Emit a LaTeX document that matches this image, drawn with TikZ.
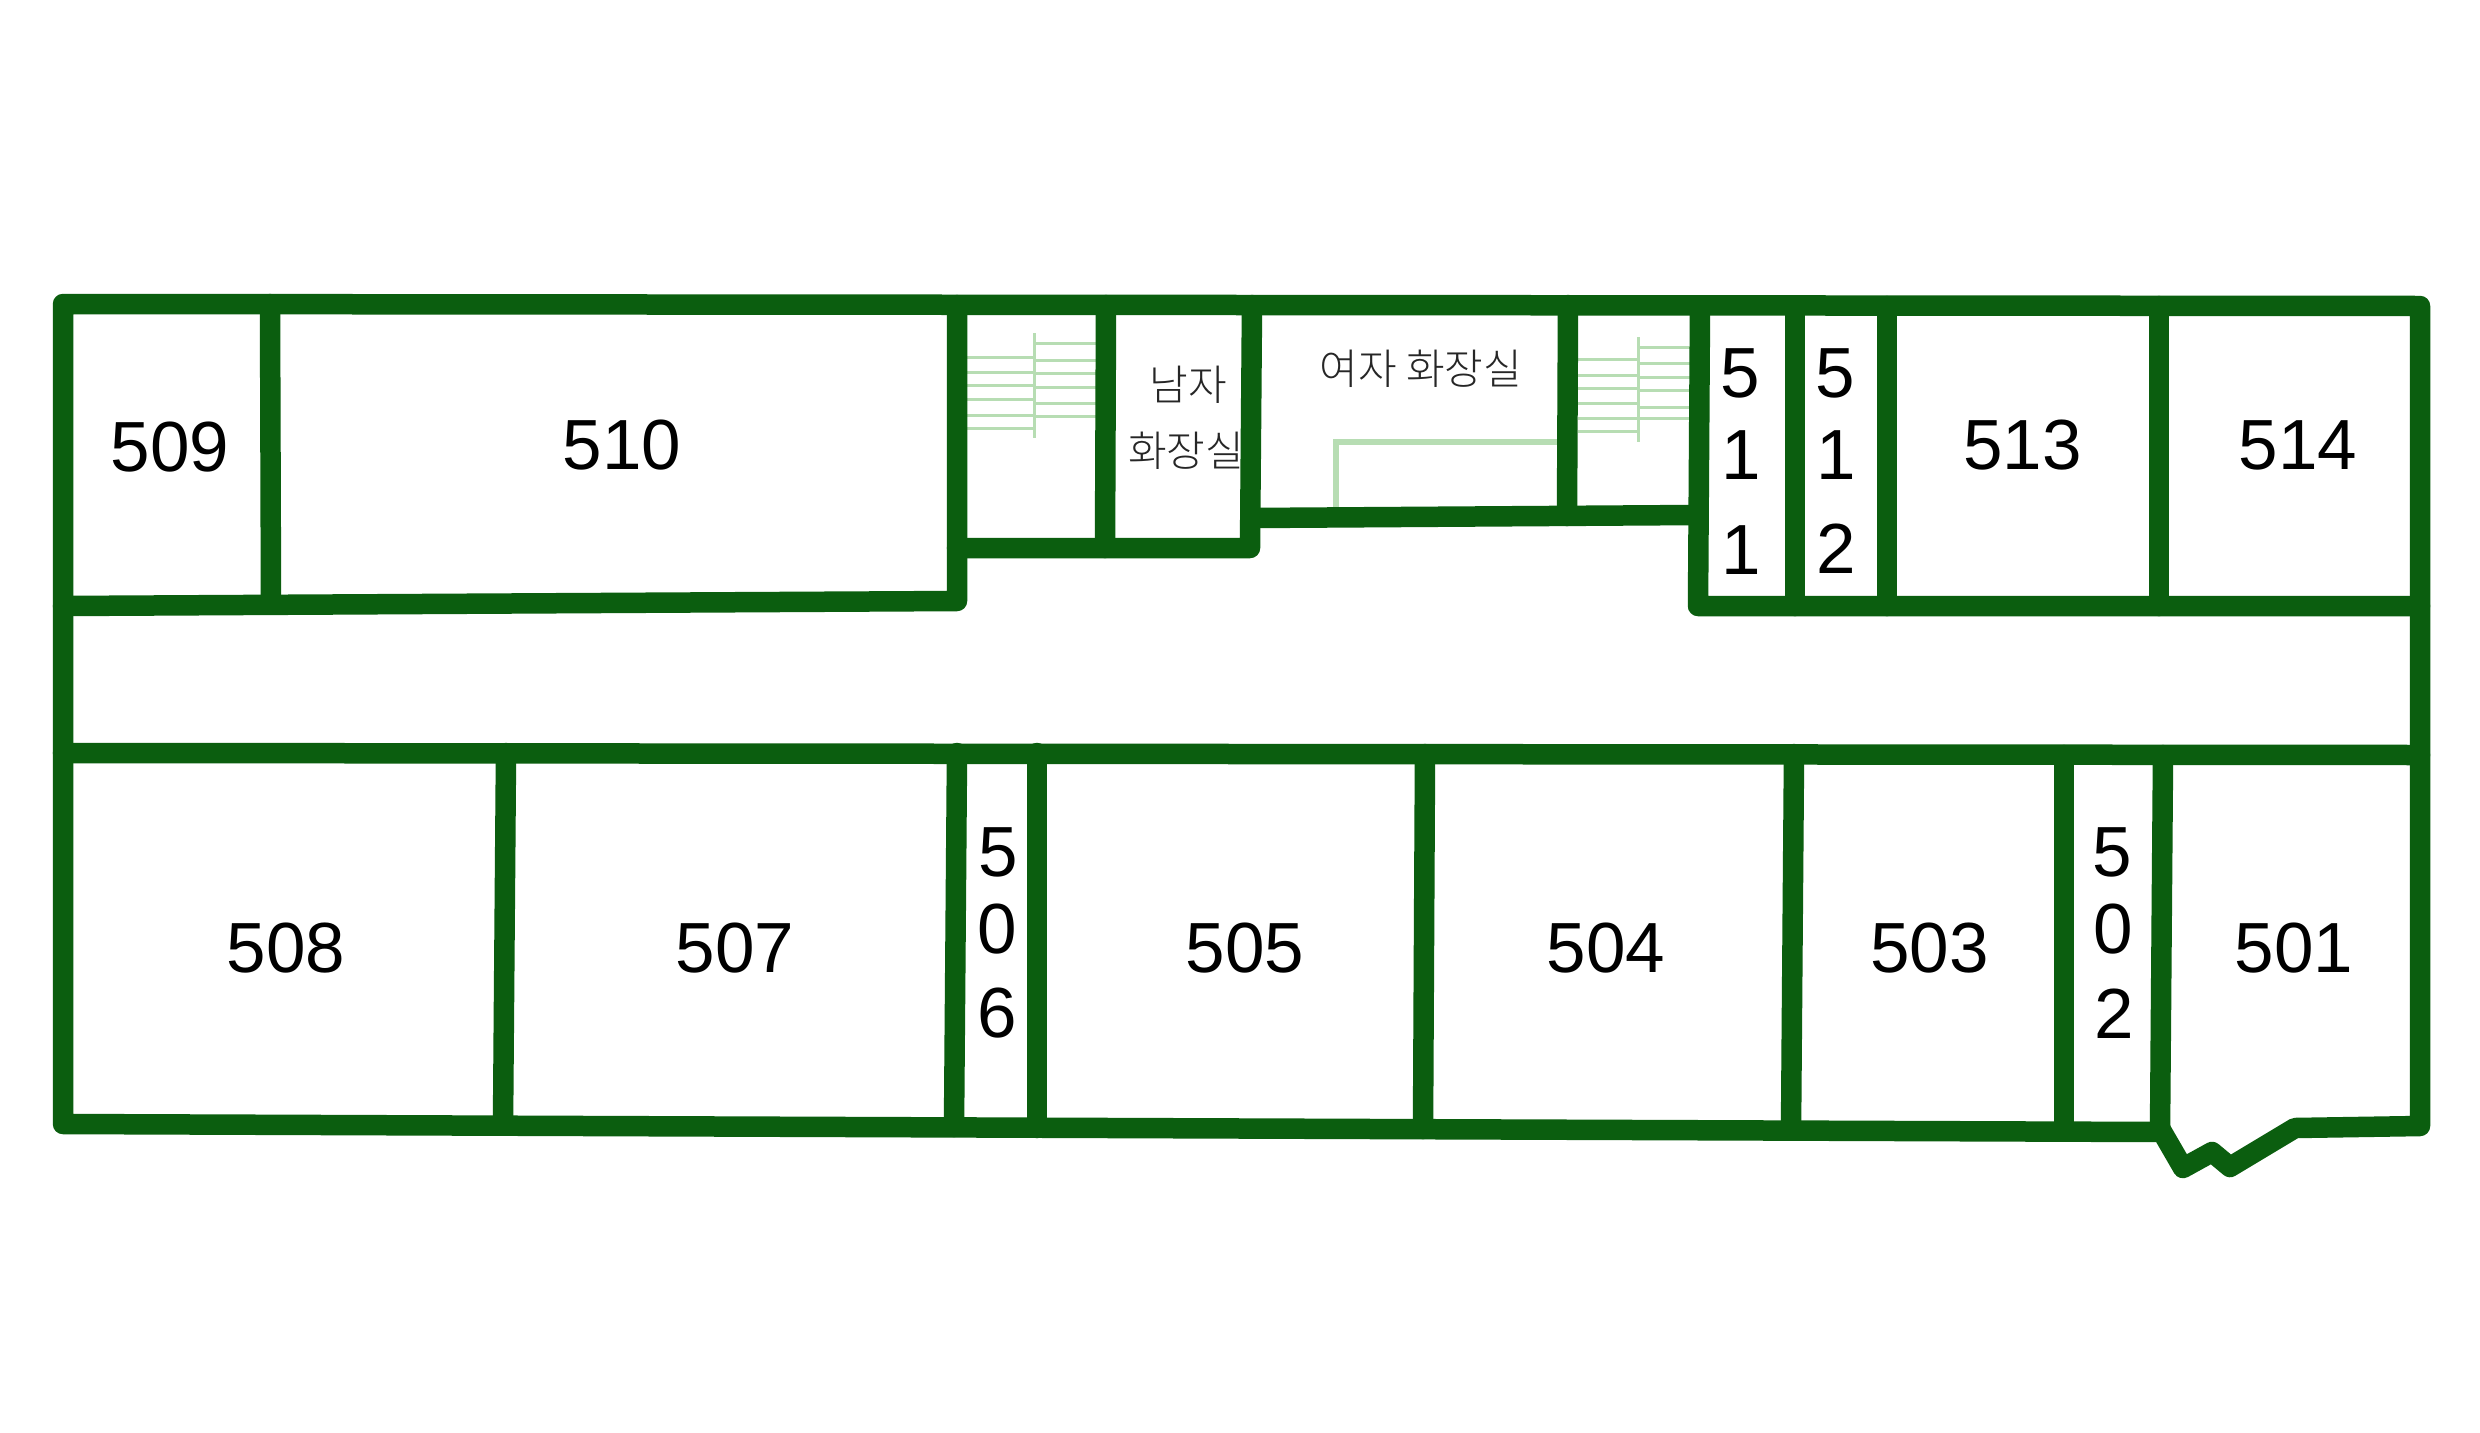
\documentclass[tikz,border=0pt]{standalone}
\usepackage{fontspec}
\setmainfont{Liberation Sans}
\newfontfamily\krfont{Noto Sans CJK KR Light}
\definecolor{wallgreen}{HTML}{0B5E0F}
\definecolor{stairgreen}{HTML}{B7DDB3}
\tikzset{
  wall/.style={draw=wallgreen,line width=20.5pt,line cap=round,line join=round},
  stair/.style={draw=stairgreen,line width=3pt},
  fixture/.style={draw=stairgreen,line width=6pt,line join=miter},
  room/.style={inner sep=0pt,text=black,font=\fontsize{71}{80}\selectfont},
  krlabel/.style={inner sep=0pt,text=black!85,font=\krfont\fontsize{42}{48}\selectfont},
}
\begin{document}
\begin{tikzpicture}[x=1pt,y=-1pt]
\useasboundingbox (0,0) rectangle (2480,1432);
\fill[white] (0,0) rectangle (2480,1432);
% stairs
\draw[stair] (1034,333) -- (1034,438);
\foreach \y in {357,372,385,399,415,428} \draw[stair] (967,\y) -- (1034,\y);
\foreach \y in {343,360,373,387,403,416} \draw[stair] (1034,\y) -- (1096,\y);
\draw[stair] (1638,337) -- (1638,442);
\foreach \y in {359,375,388,403,418,431} \draw[stair] (1578,\y) -- (1638,\y);
\foreach \y in {347,363,377,390,407,418} \draw[stair] (1638,\y) -- (1692,\y);
\draw[fixture] (1336,512) -- (1336,442) -- (1560,442);
% outer wall with entrance notch
\draw[wall] (2161,1132) -- (63,1124) -- (63,304) -- (2420,306) -- (2420,1126)
  -- (2295,1128) -- (2230,1167) -- (2212,1152) -- (2183,1168) -- (2161,1130);
% upper corridor wall
\draw[wall] (63,606) -- (957,601) -- (957,305);
\draw[wall] (957,548) -- (1250,548) -- (1252,305);
\draw[wall] (1252,518) -- (1696,515);
\draw[wall] (1700,306) -- (1698,606) -- (2420,606);
% upper partitions
\draw[wall] (270,304) -- (271,603);
\draw[wall] (1106,305) -- (1105,548);
\draw[wall] (1568,305) -- (1567,516);
\draw[wall] (1795,306) -- (1795,606);
\draw[wall] (1887,306) -- (1887,606);
\draw[wall] (2159,306) -- (2159,606);
% lower corridor wall and partitions
\draw[wall] (63,753) -- (2420,755);
\draw[wall] (506,753) -- (503,1125);
\draw[wall] (957,753) -- (954,1127);
\draw[wall] (1037,753) -- (1037,1128);
\draw[wall] (1425,754) -- (1423,1129);
\draw[wall] (1794,754) -- (1791,1130);
\draw[wall] (2064,755) -- (2064,1131);
\draw[wall] (2163,755) -- (2160,1131);
% room labels
\node[room] (r509) at (170,447.5) {509};
\node[room] (r510) at (622,445.5) {510};
\node[room] (r513) at (2022.5,445.5) {513};
\node[room] (r514) at (2298,445.5) {514};
\node[room] (r508) at (286,948.5) {508};
\node[room] (r507) at (735,948.5) {507};
\node[room] (r505) at (1245,948.5) {505};
\node[room] (r504) at (1606,948.5) {504};
\node[room] (r503) at (1929.5,948.5) {503};
\node[room] (r501) at (2294,948.5) {501};
\node[room] (a511) at (1740,373.5) {5};
\node[room] (b511) at (1741,455) {1};
\node[room] (c511) at (1741,550.5) {1};
\node[room] (a512) at (1835.5,373.5) {5};
\node[room] (b512) at (1836.5,455) {1};
\node[room] (c512) at (1836,548.5) {2};
\node[room] (a506) at (998.5,852) {5};
\node[room] (b506) at (997,929.5) {0};
\node[room] (c506) at (997,1013.5) {6};
\node[room] (a502) at (2112,852) {5};
\node[room] (b502) at (2113,929.5) {0};
\node[room] (c502) at (2114.5,1013.5) {2};
\node[krlabel] (men1) at (1188,384.5) {남자};
\node[krlabel] (men2) at (1186,450.5) {화장실};
\node[krlabel] (women) at (1421,369) {여자 화장실};
\end{tikzpicture}
\end{document}
